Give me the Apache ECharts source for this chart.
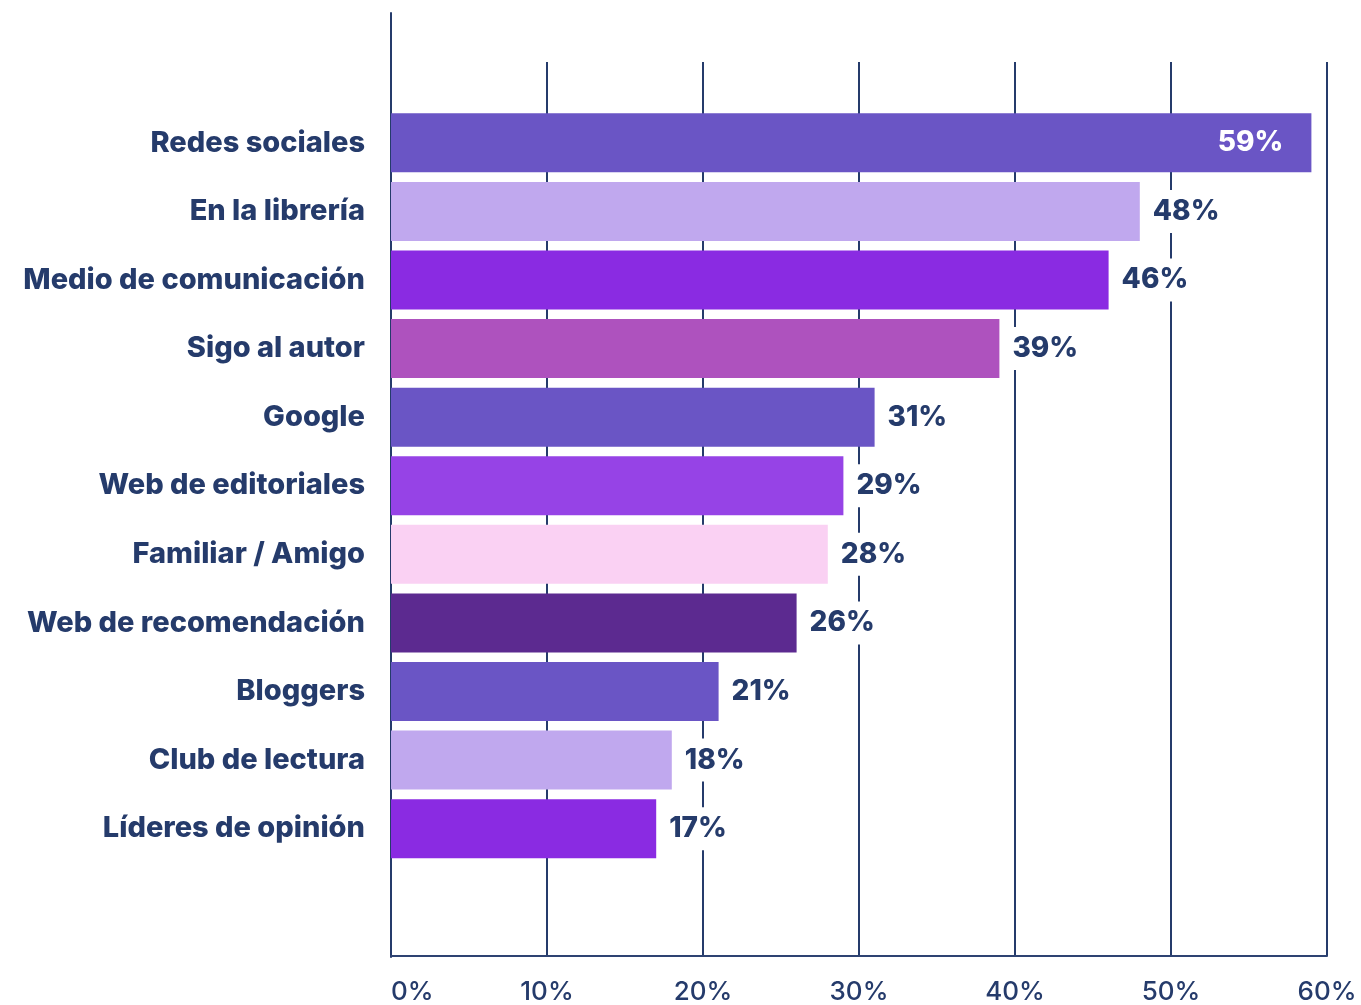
<!DOCTYPE html>
<html>
<head>
<meta charset="utf-8">
<script src="https://cdn.jsdelivr.net/npm/echarts@6/dist/echarts.min.js"></script>
<style>
html,body{margin:0;padding:0;background:#fff;}
#chart{width:1361px;height:1005px;}
</style>
</head>
<body>
<div id="chart"></div>
<script>
const categories = ["Redes sociales","En la librería","Medio de comunicación","Sigo al autor","Google","Web de editoriales","Familiar / Amigo","Web de recomendación","Bloggers","Club de lectura","Líderes de opinión"];
const values = [59,48,46,39,31,29,28,26,21,18,17];
const barColors = ["#6A55C5","#C0A8EE","#8A2BE2","#AE52BE","#6A55C5","#9643E6","#FAD1F3","#5C2A90","#6A55C5","#C0A8EE","#8A2BE2"];
const axisMin = 0, axisMax = 60, axisStep = 10;

const navy = "#253B6B";
const font = "Inter";

const chart = echarts.init(document.getElementById('chart'));
chart.setOption({
  animation: false,
  grid: [
    {left: 391, right: 34, top: 108.5, bottom: 142},
    {left: 391, right: 34, top: 62, bottom: 48},
    {left: 391, right: 34, top: 13, bottom: 48}
  ],
  xAxis: [
    {gridIndex: 0, type: 'value', min: axisMin, max: axisMax, interval: axisStep, show: false},
    {gridIndex: 1, type: 'value', min: axisMin, max: axisMax, interval: axisStep,
      axisLine: {show: true, lineStyle: {color: '#2E4372', width: 2}},
      axisTick: {show: false},
      splitLine: {show: true, lineStyle: {color: navy, width: 2}},
      axisLabel: {formatter: '{value}%', color: navy, fontFamily: font, fontWeight: 500, fontSize: 26, margin: 23, alignMinLabel: 'left'}
    },
    {gridIndex: 2, type: 'value', min: axisMin, max: axisMax, show: false}
  ],
  yAxis: [
    {gridIndex: 0, type: 'category', data: categories, inverse: true,
      axisLine: {show: false}, axisTick: {show: false}, splitLine: {show: false},
      axisLabel: {color: navy, fontFamily: font, fontWeight: 800, fontSize: 29, margin: 26}
    },
    {gridIndex: 1, type: 'value', show: false},
    {gridIndex: 2, type: 'value', min: 0, max: 1,
      axisLine: {show: true, onZero: false, lineStyle: {color: navy, width: 2}},
      axisTick: {show: false}, axisLabel: {show: false}, splitLine: {show: false}
    }
  ],
  series: [{
    type: 'bar',
    xAxisIndex: 0, yAxisIndex: 0,
    barWidth: 59,
    z: 5,
    data: values.map((v, i) => ({
      value: v,
      itemStyle: {color: barColors[i]},
      label: i === 0 ? {position: 'insideRight', color: '#fff', backgroundColor: 'transparent', distance: 28, padding: 0} : {}
    })),
    label: {
      show: true,
      position: 'right',
      distance: 5,
      formatter: '{c}%',
      color: navy,
      fontFamily: font,
      fontWeight: 800,
      fontSize: 28,
      lineHeight: 34,
      backgroundColor: '#fff',
      padding: [5, 8, 4, 8]
    }
  }]
});
</script>
</body>
</html>
